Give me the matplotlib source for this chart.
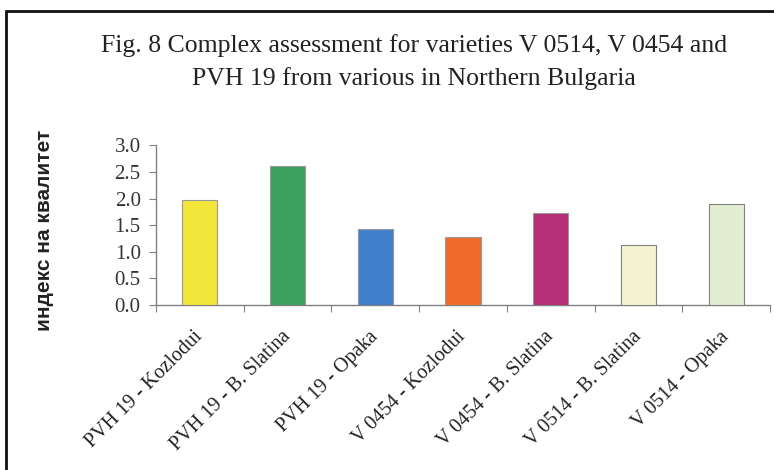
import matplotlib
matplotlib.use("Agg")
import matplotlib.pyplot as plt
from matplotlib.patches import Rectangle

categories = ["PVH 19 - Kozlodui", "PVH 19 - B. Slatina", "PVH 19 - Opaka",
              "V 0454 - Kozlodui", "V 0454 - B. Slatina", "V 0514 - B. Slatina",
              "V 0514 - Opaka"]
values = [1.97, 2.61, 1.43, 1.27, 1.73, 1.13, 1.89]
colors = ["#F2E63A", "#3AA15E", "#3F7FCB", "#F06C2A", "#B52E78", "#F3F3CF", "#E3EDD2"]
edges = ["#999999", "#999999", "#999999", "#999999", "#999999", "#808080", "#808080"]
yticks = [0.0, 0.5, 1.0, 1.5, 2.0, 2.5, 3.0]
title = "Fig. 8 Complex assessment for varieties V 0514, V 0454 and\nPVH 19 from various in Northern Bulgaria"
ylabel = "индекс на квалитет"

fig = plt.figure(figsize=(7.74, 4.70), dpi=100)
W, H = 774, 470
ax = fig.add_axes([156 / W, 1 - 305 / H, (770 - 156) / W, (305 - 145.3) / H])

x = list(range(len(categories)))
ax.bar(x, values, width=0.4, color=colors, edgecolor=edges, linewidth=0.8, zorder=3)
ax.set_xlim(-0.5, len(categories) - 0.5)
ax.set_ylim(0, 3.0)

ax.set_yticks(yticks)
ax.set_yticklabels([f"{v:.1f}" for v in yticks], family="Liberation Serif", fontsize=15, color="#333333")
ax.set_xticks([i - 0.5 for i in range(len(categories) + 1)])
ax.set_xticklabels([])
ax.set_xticks(x, minor=True)
ax.set_xticklabels(categories, minor=True, rotation=45, ha="right", va="center",
                   rotation_mode="anchor", family="Liberation Serif", fontsize=14.5, color="#222222")
ax.tick_params(axis="x", which="minor", length=0, pad=21)
ax.tick_params(axis="x", which="major", length=5, color="#808080", direction="out")
ax.tick_params(axis="y", length=5, color="#808080", direction="out", pad=6)

for s in ["top", "right"]:
    ax.spines[s].set_visible(False)
for s in ["left", "bottom"]:
    ax.spines[s].set_color("#808080")
    ax.spines[s].set_linewidth(1.0)

fig.text(45 / W, 1 - 230 / H, ylabel, rotation=90, ha="center", va="center",
         family="Liberation Sans", fontweight="bold", fontsize=15, color="#222222")

fig.text(414 / W, 1 - 62 / H, title, ha="center", va="center",
         family="Liberation Serif", fontsize=18.5, color="#222222", linespacing=1.55)

# outer frame
fig.patches.append(Rectangle((6 / W, -0.05), 1.2, 1 - 11 / H + 0.05, transform=fig.transFigure,
                             fill=False, edgecolor="#111111", linewidth=2))

fig.savefig("out.png", dpi=100)
